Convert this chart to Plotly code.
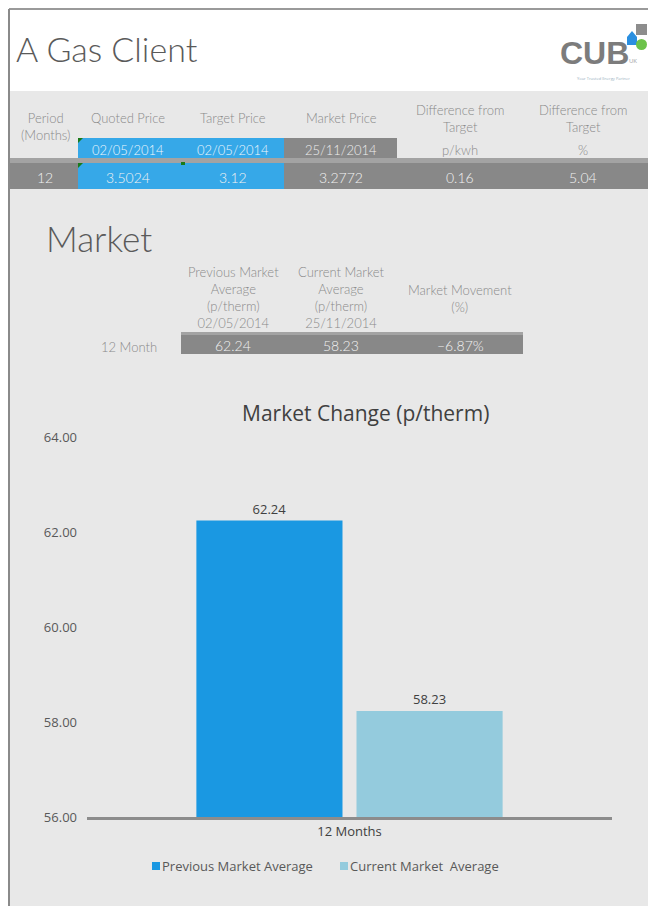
import plotly.graph_objects as go

W, H = 648, 906

# ---------------- data ----------------
report_title = "A Gas Client"
top_headers = ["Period<br>(Months)", "Quoted Price", "Target Price", "Market Price",
               "Difference from<br>Target", "Difference from<br>Target"]
top_subheaders = ["", "02/05/2014", "02/05/2014", "25/11/2014", "p/kwh", "%"]
top_values = ["12", "3.5024", "3.12", "3.2772", "0.16", "5.04"]

market_title = "Market"
market_row_label = "12 Month"
market_headers = ["Previous Market<br>Average<br>(p/therm)<br>02/05/2014",
                  "Current Market<br>Average<br>(p/therm)<br>25/11/2014",
                  "Market Movement<br>(%)"]
market_values = ["62.24", "58.23", "\u20136.87%"]

chart_title = "Market Change (p/therm)"
categories = ["12 Months"]
series_names = ["Previous Market Average", "Current Market  Average"]
previous_avg = [62.24]
current_avg = [58.23]
y_ticks = [56, 58, 60, 62, 64]

# ---------------- style ----------------
FONT = "Open Sans"
LIGHT = "Lato"
BG = "#e8e8e8"
BLUE_CELL = "#36a8e8"
DARK = "#888888"
SEP = "#a3a3a3"
HDR = "#8a8a8a"
C1 = "#1a98e2"
C2 = "#94cbdd"


def px(x):
    return x / W


def py(y):
    return 1 - y / H


shapes = []
annotations = []


def rect(x0, y0, x1, y1, color, layer="below"):
    shapes.append(dict(type="rect", xref="paper", yref="paper",
                       x0=px(x0), x1=px(x1), y0=py(y1), y1=py(y0),
                       fillcolor=color, line=dict(width=0), layer=layer))


def text(x, y, s, size=12, color=HDR, xanchor="center", yanchor="middle", weight=None, family=FONT):
    f = dict(family=family, size=size, color=color)
    if weight:
        f["weight"] = weight
    annotations.append(dict(xref="paper", yref="paper", x=px(x), y=py(y), text=s,
                            showarrow=False, xanchor=xanchor, yanchor=yanchor,
                            font=f, align="center"))


def ltext(x, y, s, size=13, color=HDR, xanchor="center"):
    text(x, y, s, size=size, color=color, xanchor=xanchor, weight=300, family=LIGHT)


# page background regions
rect(9, 91, W, H, BG)
# border lines
shapes.append(dict(type="line", xref="paper", yref="paper", x0=px(9), x1=px(W), y0=py(9), y1=py(9),
                   line=dict(color="#9a9a9a", width=2), layer="above"))
shapes.append(dict(type="line", xref="paper", yref="paper", x0=px(9), x1=px(9), y0=py(9), y1=py(H),
                   line=dict(color="#8a8a8a", width=2), layer="above"))

# header title
text(14, 48, report_title, size=34, color="#5a5a5a", xanchor="left", weight=300, family=LIGHT)

# logo approximation
text(594, 53, "<b>CUB</b>", size=32, color="#7c7c7c", family="Liberation Sans")
text(627, 61, "UK", size=6, color="#a0a0a0", xanchor="left")
text(603, 78, "Your Trusted Energy Partner", size=4, color="#9ab0c0")
shapes.append(dict(type="path", xref="paper", yref="paper",
                   path="M {} {} L {} {} L {} {} L {} {} L {} {} Z".format(
                       px(627), py(45), px(627), py(37), px(632), py(31), px(637), py(37), px(637), py(45)),
                   fillcolor="#2a8fe0", line=dict(width=0), layer="above"))
shapes.append(dict(type="rect", xref="paper", yref="paper", x0=px(636), x1=px(647), y0=py(35), y1=py(24),
                   fillcolor="#8d8d8d", line=dict(width=0), layer="above"))
shapes.append(dict(type="circle", xref="paper", yref="paper", x0=px(636), x1=px(647), y0=py(50), y1=py(39),
                   fillcolor="#6cc24a", line=dict(width=0), layer="above"))

# ---------------- top table ----------------
col_centers = [45, 128, 233, 341, 460, 583]
# date row cells
rect(78, 138, 284, 158, BLUE_CELL)
rect(284, 138, 397, 158, DARK)
# separator and value row
rect(9, 158, W, 163, SEP)
rect(9, 163, W, 189, DARK)
rect(78, 163, 284, 189, BLUE_CELL)
# little green cell markers
for (gx, gy) in [(78, 138), (78, 163)]:
    shapes.append(dict(type="path", xref="paper", yref="paper",
                       path="M {} {} L {} {} L {} {} Z".format(px(gx), py(gy), px(gx + 5), py(gy), px(gx), py(gy + 5)),
                       fillcolor="#1a7a1a", line=dict(width=0), layer="above"))
rect(181, 162, 185, 165, "#1a7a1a", layer="above")

for i, c in enumerate(col_centers):
    if i == 0:
        ltext(c, 127, top_headers[i])
    else:
        ltext(c, 118, top_headers[i])
    if top_subheaders[i]:
        sub_col = "#eef7fd" if i in (1, 2) else ("#eeeeee" if i == 3 else HDR)
        ltext(c, 150, top_subheaders[i], color=sub_col)
    ltext(c, 177, top_values[i], size=14, color="#f2f2f2")

# ---------------- market table ----------------
text(44, 238, market_title, size=35, color="#5a5a5a", xanchor="left", weight=300, family=LIGHT)
m_centers = [233, 341, 460]
rect(181, 332, 523, 335, SEP)
rect(181, 335, 523, 354, DARK)
ltext(159, 347, market_row_label, xanchor="right")
for i, c in enumerate(m_centers):
    if i < 2:
        ltext(c, 297, market_headers[i])
    else:
        ltext(c, 298, market_headers[i])
    ltext(c, 346, market_values[i], size=14, color="#f2f2f2")

# ---------------- chart ----------------
text(366, 413, chart_title, size=21, color="#404040")

fig = go.Figure()
for name, vals, col in [(series_names[0], previous_avg, C1), (series_names[1], current_avg, C2)]:
    fig.add_trace(go.Bar(x=categories, y=vals, name=name, marker=dict(color=col, line=dict(width=0)),
                         texttemplate="%{y:.2f}", textposition="outside",
                         textfont=dict(family=FONT, size=13, color="#404040"), showlegend=False))

# legend (manual, positioned like the original)
leg_items = [(152, series_names[0], C1), (340, series_names[1], C2)]
for lx, name, col in leg_items:
    rect(lx, 862, lx + 8, 870, col, layer="above")
    text(lx + 8, 866, name, size=13, color="#595959", xanchor="left")

PX0, PX1, PY0, PY1 = 87, 612, 437, 817
fig.update_layout(
    width=W, height=H,
    margin=dict(l=0, r=0, t=0, b=0),
    paper_bgcolor="white",
    plot_bgcolor="rgba(0,0,0,0)",
    font=dict(family=FONT, color="#595959"),
    bargap=0.39,
    bargroupgap=0.0875,
    barmode="group",
    shapes=shapes,
    annotations=annotations,
    xaxis=dict(domain=[px(PX0), px(PX1)], range=[-0.5, 0.5], showline=True, linecolor="#8c8c8c",
               linewidth=3, ticks="", showgrid=False, zeroline=False, automargin=False,
               tickfont=dict(family=FONT, size=13, color="#404040"), fixedrange=True),
    yaxis=dict(domain=[py(PY1), py(PY0)], range=[56, 64], tickvals=y_ticks, tickformat=".2f",
               showline=False, showgrid=False, zeroline=False, ticks="", automargin=False,
               ticklabelstandoff=9,
               tickfont=dict(family=FONT, size=13, color="#595959"), fixedrange=True),
    showlegend=False,
)

fig.write_html("out.html")
